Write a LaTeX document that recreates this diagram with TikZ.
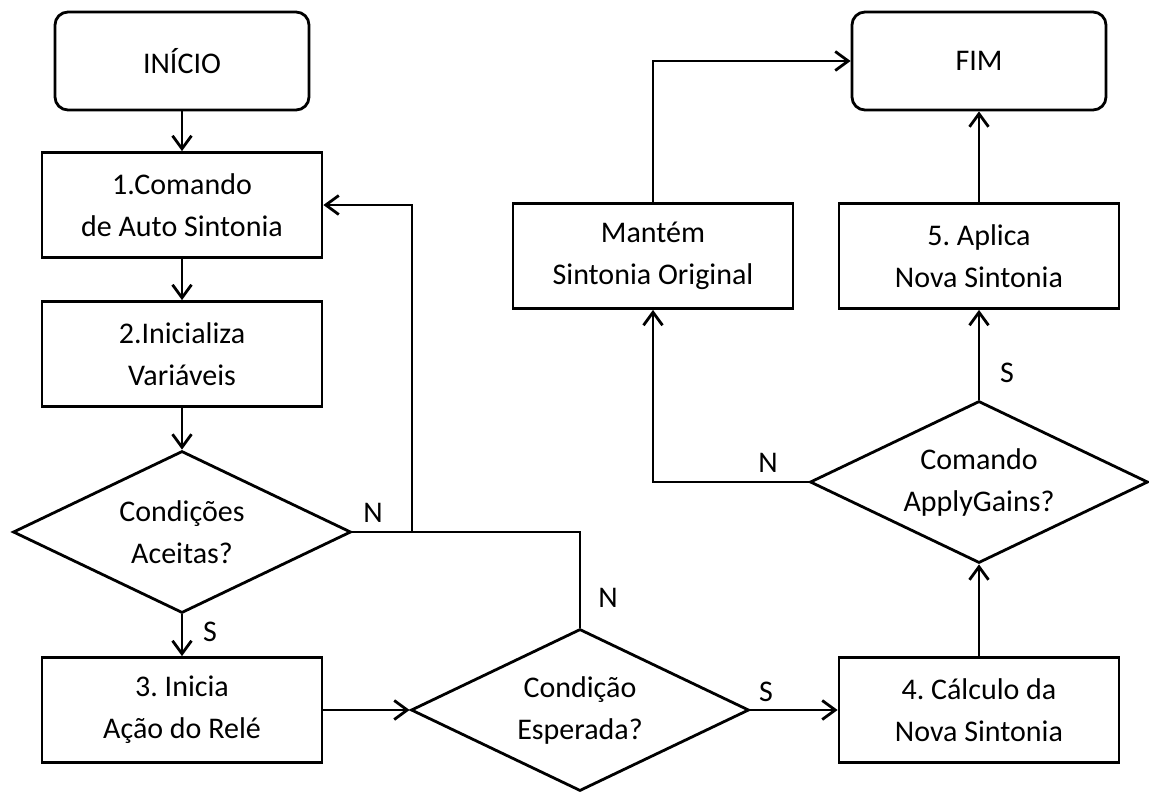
\documentclass[tikz,border=0pt]{standalone}
\usepackage{fontspec}
\setmainfont{Carlito}
\usetikzlibrary{shapes.geometric,arrows.meta}
\begin{document}
\frenchspacing
\begin{tikzpicture}[x=1pt,y=-1pt,
  every node/.style={font=\fontsize{30}{42}\selectfont},
  base/.style={draw, line width=2.8pt, align=center, inner sep=0pt},
  terminal/.style={base, rectangle, rounded corners=13pt, minimum width=254pt, minimum height=98pt},
  process/.style={base, rectangle, minimum width=280pt, minimum height=105pt},
  decision/.style={base, diamond, aspect=2.07, minimum width=338pt, minimum height=162pt},
  flow/.style={line width=2.8pt, -{Straight Barb[length=13pt,width=19pt]}},
  link/.style={line width=2.8pt},
  tag/.style={inner sep=0pt}]
\useasboundingbox (0,0) rectangle (1149,793);

% terminals
\node[terminal] (start) at (182,61) {INÍCIO};
\node[terminal] (fim) at (979,61) {FIM};

% left column
\node[process] (cmd) at (182,205) {1.Comando\\de Auto Sintonia};
\node[process] (init) at (182,354) {2.Inicializa\\Variáveis};
\node[decision] (cond) at (182,532) {Condições\\Aceitas?};
\node[process] (rele) at (182,710) {3. Inicia\\Ação do Relé};

% bottom row
\node[decision] (esp) at (580,710) {Condição\\Esperada?};
\node[process] (calc) at (979,710) {4. Cálculo da\\Nova Sintonia};

% right column
\node[decision] (apply) at (979,482) {Comando\\ApplyGains?};
\node[process] (aplica) at (979,256) {5. Aplica\\Nova Sintonia};
\node[process] (mant) at (653,256) {Mantém\\Sintonia Original};

% junction of the two "N" return branches
\coordinate (j) at (412,532);

% main flow
\draw[flow] (start) -- (cmd);
\draw[flow] (cmd) -- (init);
\draw[flow] (init) -- (cond);
\draw[flow] (cond) -- (rele);
\draw[flow] (rele) -- (esp);
\draw[flow] (esp) -- (calc);
\draw[flow] (calc) -- (apply);
\draw[flow] (apply) -- (aplica);
\draw[flow] (aplica) -- (fim);

% return branches
\draw[flow] (cond.east) -- (j) |- (cmd.east);
\draw[link] (esp.north) |- (j);
\draw[flow] (apply.west) -| (mant.south);
\draw[flow] (mant.north) |- (fim.west);

% branch labels
\node[tag] (s1) at (210,632) {S};
\node[tag] (n1) at (373,513) {N};
\node[tag] (n2) at (608,598) {N};
\node[tag] (s2) at (766,692) {S};
\node[tag] (n3) at (768,463) {N};
\node[tag] (s3) at (1007,373) {S};
\end{tikzpicture}
\end{document}
